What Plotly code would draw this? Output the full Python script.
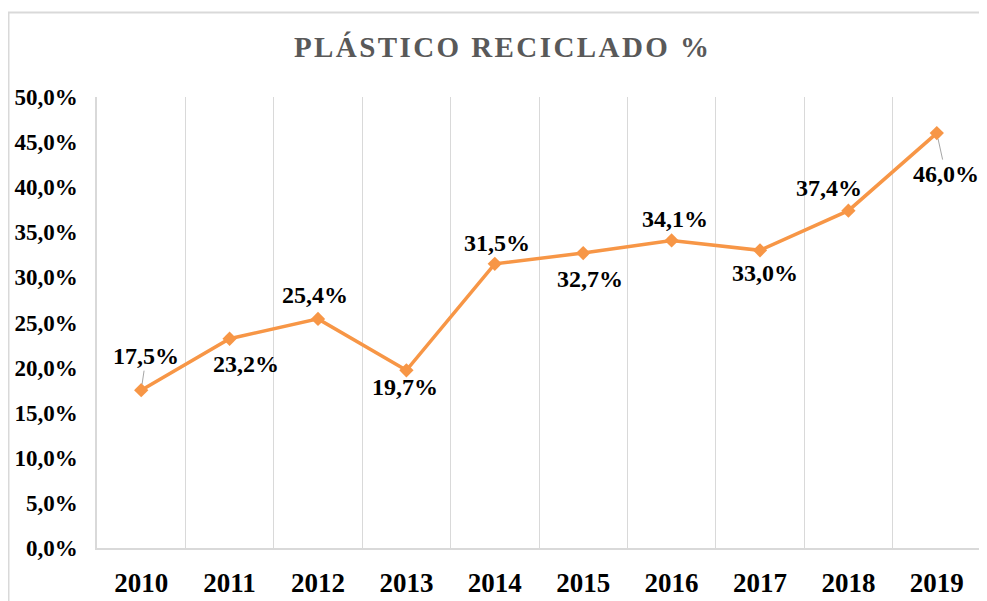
import plotly.graph_objects as go

years = ["2010", "2011", "2012", "2013", "2014", "2015", "2016", "2017", "2018", "2019"]
values = [17.5, 23.2, 25.4, 19.7, 31.5, 32.7, 34.1, 33.0, 37.4, 46.0]
labels = ["17,5%", "23,2%", "25,4%", "19,7%", "31,5%", "32,7%", "34,1%", "33,0%", "37,4%", "46,0%"]
title_text = "PLÁSTICO RECICLADO %"

# label offsets (pixels) and whether a leader line is drawn
label_dx = [5, 16, -3, -1, 2, 7, 3, 5, -19, 9]
label_dy = [-34, 25, -24, 17, -21, 26, -21, 23, -23, 41]
leader = [True, False, False, False, False, False, False, False, False, True]

SERIF = "Liberation Serif, Times New Roman, serif"
ORANGE = "#F79646"
GRID = "#D9D9D9"

fig = go.Figure()
fig.add_trace(go.Scatter(
    x=list(range(len(years))), y=values, mode="lines+markers",
    line=dict(color=ORANGE, width=3.5),
    marker=dict(symbol="diamond", size=11, color=ORANGE),
    hoverinfo="skip", showlegend=False,
))

annotations = []
for i, (v, t, dx, dy, ld) in enumerate(zip(values, labels, label_dx, label_dy, leader)):
    a = dict(x=i, y=v, xref="x", yref="y", text="<b>" + t + "</b>",
             font=dict(family=SERIF, size=24, color="#000000"))
    if ld:
        a.update(showarrow=True, ax=dx, ay=dy, axref="pixel", ayref="pixel",
                 arrowhead=0, arrowwidth=1, arrowcolor="#A6A6A6", standoff=6)
    else:
        a.update(showarrow=False, xshift=dx, yshift=-dy)
    annotations.append(a)

spaced_title = "\u200a".join(list(title_text))

fig.update_layout(
    width=979, height=593,
    margin=dict(l=89, r=6, t=89, b=53, autoexpand=False),
    paper_bgcolor="white", plot_bgcolor="white",
    separators=",.",
    title=dict(text="<b>" + spaced_title + "</b>", x=0.504, xanchor="center", y=0.934, yanchor="middle",
               font=dict(family=SERIF, size=29, color="#595959")),
    annotations=annotations,
    shapes=[dict(type="rect", xref="paper", yref="paper",
                 x0=-0.1001, x1=1.03, y0=-0.14, y1=1.1874,
                 line=dict(color=GRID, width=2), layer="below")],
)
fig.update_xaxes(
    tickmode="array", tickvals=list(range(len(years))), ticktext=["<b>" + y + "</b>" for y in years],
    showgrid=False, showline=True, linecolor=GRID, linewidth=1.5, ticks="", ticklabelstandoff=10,
    minor=dict(tickmode="array", tickvals=[i - 0.5 for i in range(len(years) + 1)],
               showgrid=True, gridcolor=GRID, gridwidth=1, ticks=""),
    tickfont=dict(family=SERIF, size=27, color="#000000"),
    range=[-0.5, len(years) - 0.5], zeroline=False, fixedrange=True,
)
fig.update_yaxes(
    range=[0, 50], dtick=5, tick0=0, tickformat=".1f", ticksuffix="%",
    showgrid=False, zeroline=False, showline=True, mirror=True, linecolor=GRID, linewidth=1.5,
    ticks="", ticklabelstandoff=13,
    tickfont=dict(family=SERIF, size=23, color="#000000", weight="bold"),
    fixedrange=True,
)

fig.write_html("out.html")
